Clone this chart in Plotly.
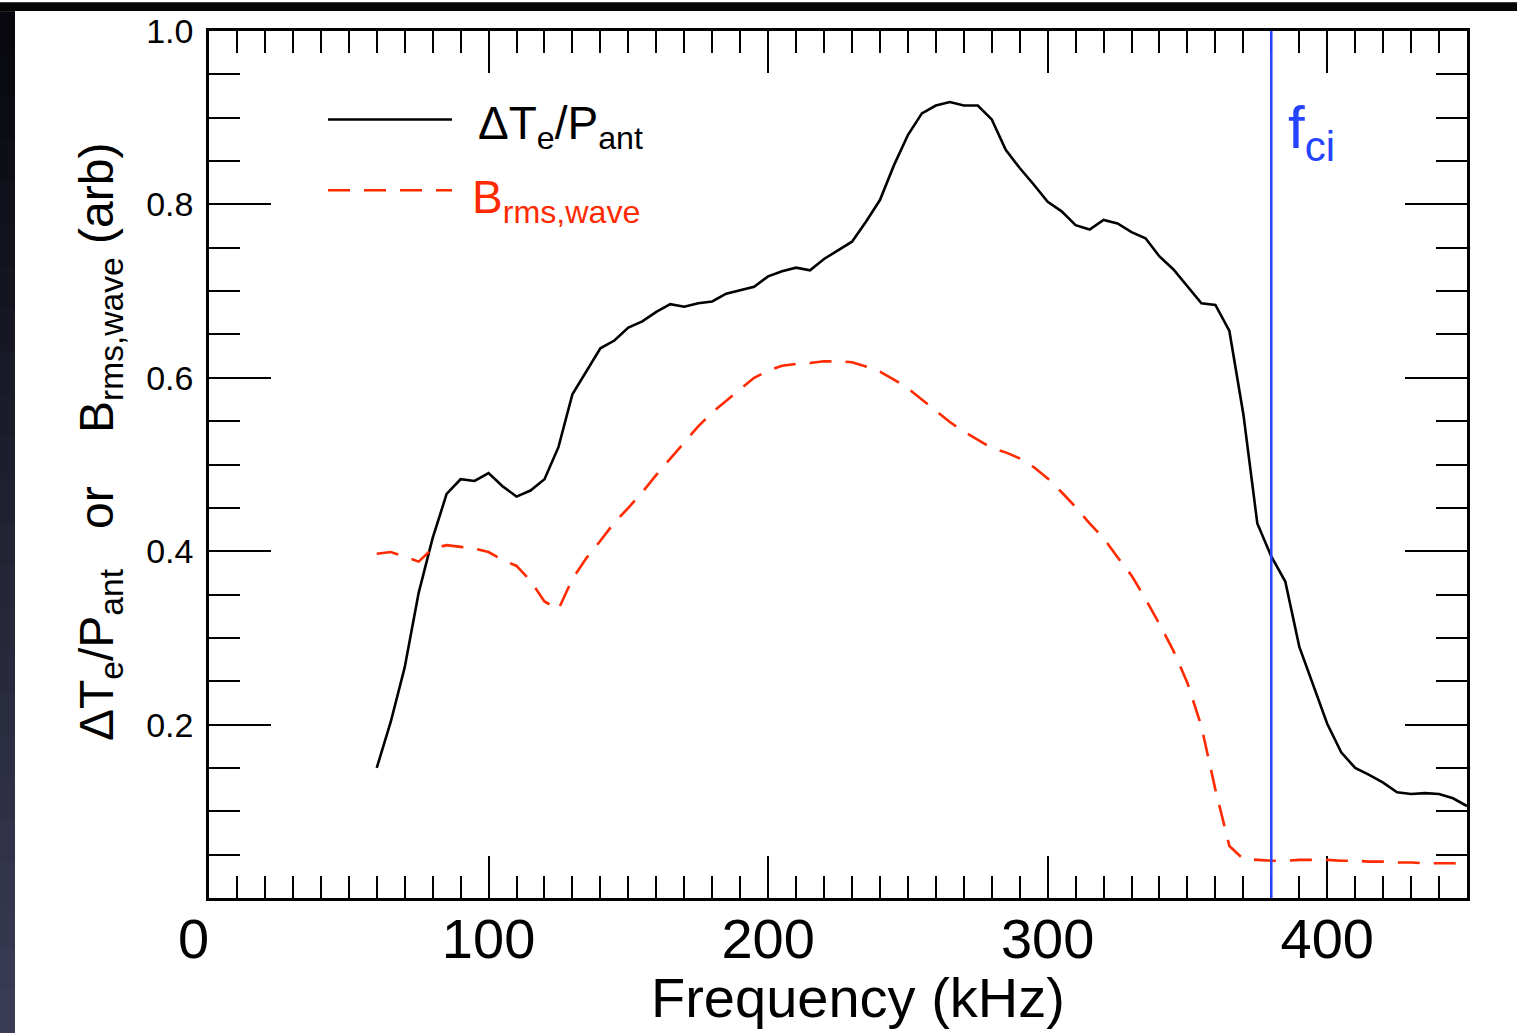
import plotly.graph_objects as go

# ---------------- data ----------------
freq_khz = [60, 65, 70, 75, 80, 85, 90, 95, 100, 105, 110, 115, 120, 125, 130, 135,
            140, 145, 150, 155, 160, 165, 170, 175, 180, 185, 190, 195, 200, 205,
            210, 215, 220, 225, 230, 235, 240, 245, 250, 255, 260, 265, 270, 275,
            280, 285, 290, 295, 300, 305, 310, 315, 320, 325, 330, 335, 340, 345,
            350, 355, 360, 365, 370, 375, 380, 385, 390, 395, 400, 405, 410, 415,
            420, 425, 430, 435, 440, 445, 450]

dTe_per_Pant = [0.150, 0.203, 0.266, 0.352, 0.415, 0.466, 0.483, 0.481, 0.490, 0.475,
                0.463, 0.470, 0.483, 0.520, 0.581, 0.607, 0.634, 0.643, 0.658, 0.665,
                0.676, 0.685, 0.682, 0.686, 0.688, 0.697, 0.701, 0.705, 0.717, 0.723,
                0.727, 0.724, 0.737, 0.747, 0.757, 0.780, 0.805, 0.845, 0.880, 0.905,
                0.914, 0.918, 0.914, 0.914, 0.898, 0.863, 0.842, 0.823, 0.803, 0.792,
                0.776, 0.771, 0.782, 0.778, 0.768, 0.761, 0.740, 0.725, 0.705, 0.686,
                0.684, 0.654, 0.558, 0.432, 0.394, 0.365, 0.290, 0.246, 0.201, 0.168,
                0.150, 0.142, 0.133, 0.122, 0.120, 0.121, 0.120, 0.115, 0.106]

B_rms_wave = [0.397, 0.399, 0.394, 0.388, 0.403, 0.407, 0.405, 0.403, 0.399, 0.390,
              0.383, 0.366, 0.342, 0.333, 0.368, 0.392, 0.412, 0.433, 0.450, 0.468,
              0.488, 0.507, 0.526, 0.544, 0.560, 0.573, 0.587, 0.600, 0.608, 0.614,
              0.616, 0.617, 0.619, 0.619, 0.618, 0.613, 0.607, 0.598, 0.588, 0.575,
              0.562, 0.549, 0.538, 0.528, 0.519, 0.514, 0.507, 0.497, 0.484, 0.468,
              0.451, 0.432, 0.415, 0.393, 0.372, 0.345, 0.316, 0.285, 0.248, 0.198,
              0.125, 0.060, 0.045, 0.044, 0.043, 0.043, 0.044, 0.044, 0.044, 0.043,
              0.043, 0.042, 0.042, 0.041, 0.041, 0.040, 0.040, 0.040, 0.039]

F_CI = 380  # kHz

x_tickvals = [0, 100, 200, 300, 400]
x_ticktext = ["0\u00a0\u00a0", "100", "200", "300", "400"]
y_tickvals = [0.2, 0.4, 0.6, 0.8, 1.0]
y_ticktext = ["0.2", "0.4", "0.6", "0.8", "1.0"]

# ---------------- style ----------------
FONT = "Liberation Sans, Arial, Helvetica, sans-serif"
BLACK = "#000000"
RED = "#ff2a00"
BLUE = "#2444ff"

W, H = 1517, 1033
ML, MR, MT, MB = 209, 50, 27, 135
PW, PH = W - ML - MR, H - MT - MB


def px_x(p):
    return (p - ML) / PW


def px_y(p):
    return (H - MB - p) / PH


fig = go.Figure()

fig.add_trace(go.Scatter(x=freq_khz, y=dTe_per_Pant, mode="lines",
                         line=dict(color=BLACK, width=2.6), showlegend=False))
fig.add_trace(go.Scatter(x=freq_khz, y=B_rms_wave, mode="lines",
                         line=dict(color=RED, width=2.6, dash="22px,14px"),
                         showlegend=False))
fig.add_trace(go.Scatter(x=[F_CI, F_CI], y=[0, 1], mode="lines",
                         line=dict(color=BLUE, width=2.5), showlegend=False))

axis_common = dict(
    showgrid=False, zeroline=False, showline=True, linecolor=BLACK, linewidth=2.5,
    mirror="ticks", ticks="inside", tickcolor=BLACK, tickwidth=2,
    layer="below traces",
)

fig.update_xaxes(
    range=[0, 450], tickvals=x_tickvals, ticktext=x_ticktext, ticklen=42,
    tickfont=dict(family=FONT, size=56, color=BLACK),
    minor=dict(dtick=10, ticks="inside", ticklen=22, tickcolor=BLACK, tickwidth=2),
    ticklabelstandoff=-10,
    **axis_common,
)
fig.update_yaxes(
    range=[0, 1.0], tickvals=y_tickvals, ticktext=y_ticktext, ticklen=62,
    tickfont=dict(family=FONT, size=34, color=BLACK),
    minor=dict(dtick=0.05, tick0=0, ticks="inside", ticklen=31, tickcolor=BLACK, tickwidth=2),
    ticklabelstandoff=6,
    **axis_common,
)

shapes = []
# dark frame on the top and left edge of the picture
shapes.append(dict(type="rect", xref="paper", yref="paper",
                   x0=px_x(0), x1=px_x(W), y0=px_y(7), y1=px_y(-2),
                   fillcolor="#050505", line=dict(width=0), layer="above"))
n_seg = 24
for i in range(n_seg):
    t = i / (n_seg - 1)
    r = int(8 + t * (58 - 8))
    g = int(8 + t * (60 - 8))
    b = int(14 + t * (86 - 14))
    y0p = 7 + i * (H - 7) / n_seg
    y1p = 7 + (i + 1) * (H - 7) / n_seg + 1
    shapes.append(dict(type="rect", xref="paper", yref="paper",
                       x0=px_x(-2), x1=px_x(15), y0=px_y(y1p), y1=px_y(y0p),
                       fillcolor=f"rgb({r},{g},{b})", line=dict(width=0), layer="above"))

# legend sample lines
shapes.append(dict(type="line", xref="paper", yref="paper",
                   x0=px_x(328), x1=px_x(452), y0=px_y(116), y1=px_y(116),
                   line=dict(color=BLACK, width=2.5)))
shapes.append(dict(type="line", xref="paper", yref="paper",
                   x0=px_x(328), x1=px_x(452), y0=px_y(187), y1=px_y(187),
                   line=dict(color=RED, width=2.5, dash="22px,14px")))

annotations = [
    dict(text="\u0394T<sub>e</sub>/P<sub>ant</sub>", xref="paper", yref="paper",
         x=px_x(476), y=px_y(123), xanchor="left", yanchor="middle", showarrow=False,
         font=dict(family=FONT, size=46, color=BLACK)),
    dict(text="B<sub>rms,wave</sub>", xref="paper", yref="paper",
         x=px_x(470), y=px_y(197), xanchor="left", yanchor="middle", showarrow=False,
         font=dict(family=FONT, size=46, color=RED)),
    dict(text="f<sub>ci</sub>", xref="paper", yref="paper",
         x=px_x(1286), y=px_y(128), xanchor="left", yanchor="middle", showarrow=False,
         font=dict(family=FONT, size=60, color=BLUE)),
    dict(text="Frequency (kHz)", xref="paper", yref="paper",
         x=px_x(858), y=px_y(998), xanchor="center", yanchor="middle", showarrow=False,
         font=dict(family=FONT, size=56, color=BLACK)),
    dict(text="\u0394T<sub>e</sub>/P<sub>ant</sub>\u00a0\u00a0\u00a0or\u00a0\u00a0\u00a0\u00a0B<sub>rms,wave</sub> (arb)",
         xref="paper", yref="paper", textangle=-90,
         x=px_x(100), y=px_y(440), xanchor="center", yanchor="middle", showarrow=False,
         font=dict(family=FONT, size=48, color=BLACK)),
]

fig.update_layout(
    width=W, height=H,
    margin=dict(l=ML, r=MR, t=MT, b=MB, pad=0),
    paper_bgcolor="white", plot_bgcolor="white",
    shapes=shapes, annotations=annotations,
    showlegend=False,
)

fig.write_html("out.html")
